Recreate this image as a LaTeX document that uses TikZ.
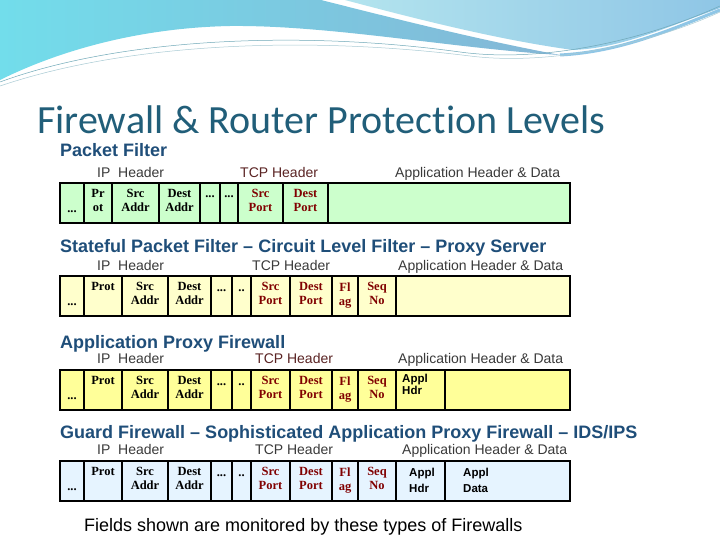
\documentclass[tikz,border=0pt]{standalone}
\usepackage{fontspec}
\setmainfont{Liberation Sans}
\newfontfamily\titlefont[Ligatures={NoCommon,NoDiscretionary}]{Carlito}
\newfontfamily\cellfont{Liberation Serif}
\usetikzlibrary{positioning}
\definecolor{titleteal}{HTML}{215E79}
\definecolor{secblue}{HTML}{1F4E79}
\definecolor{lblgray}{HTML}{3A3A3A}
\definecolor{tcpred}{HTML}{800000}
\definecolor{tcplbl}{HTML}{5A2323}
\definecolor{pfgreen}{HTML}{CCFFCC}
\definecolor{spyellow}{HTML}{FFFFCC}
\definecolor{apyellow}{HTML}{FFFF99}
\definecolor{gfblue}{HTML}{E6F4FF}
\definecolor{wavecyan}{HTML}{72DDEB}
\definecolor{waveblue}{HTML}{84B6D6}
\definecolor{wavelight}{HTML}{B3E4EE}
\definecolor{wavemid}{HTML}{8FC6E6}
\definecolor{waveline}{HTML}{6FA8B8}

\begin{document}
\begin{tikzpicture}[
  x=1pt, y=-1pt,
  secnode/.style={font=\fontsize{18}{20}\selectfont\bfseries, text=secblue, anchor=base west, inner sep=0},
  hdrnode/.style={font=\fontsize{14}{16}\selectfont, text=lblgray, anchor=base west, inner sep=0},
  ipfield/.style={font=\cellfont\bfseries\fontsize{12.5}{14}\selectfont, align=center, anchor=north, inner sep=0},
  tcpfield/.style={ipfield, text=tcpred},
  dotfield/.style={font=\cellfont\bfseries\fontsize{12.5}{14}\selectfont, anchor=base, inner sep=0},
  applfield/.style={font=\bfseries\fontsize{11.5}{12}\selectfont, align=left, anchor=north west, inner sep=0},
  rowframe/.style={draw=black, line width=2.2pt},
  divider/.style={draw=black, line width=1.3pt},
]

\useasboundingbox (0,0) rectangle (720,540);
\fill[white] (0,0) rectangle (720,540);

% =============================================
% Top wave decoration
% =============================================
\shade[left color=wavecyan, right color=waveblue]
  (0,0) -- (321,0) .. controls (400,20) and (480,40) .. (560,55)
  .. controls (450,48) and (330,25) .. (230,26)
  .. controls (130,28) and (50,55) .. (0,80) -- cycle;
\shade[left color=wavelight, right color=wavemid]
  (345,0) -- (720,0) -- (720,8) .. controls (660,30) and (620,48) .. (573,50)
  .. controls (500,40) and (420,20) .. (345,0) -- cycle;
\draw[wavemid, line width=3pt] (560,55) .. controls (620,52) and (670,30) .. (720,10);
\draw[waveline, line width=0.5pt] (0,82) .. controls (120,38) and (300,30) .. (460,52)
  .. controls (540,63) and (640,42) .. (720,6);
\draw[waveline!60, line width=0.5pt] (0,86) .. controls (130,42) and (310,36) .. (470,56)
  .. controls (550,66) and (650,44) .. (720,12);

% Title
\node[font=\titlefont\fontsize{40}{44}\selectfont, text=titleteal, anchor=base west, inner sep=0]
  (title) at (37,134) {Firewall \& Router Protection Levels};

% =============================================
% Row 1: Packet Filter
% =============================================
\node[secnode] (pf-sec) at (60,157) {Packet Filter};
\node[hdrnode] (pf-ip) at (97,178) {IP\ \ Header};
\node[hdrnode, text=tcplbl] (pf-tcp) at (240,178) {TCP Header};
\node[hdrnode] (pf-app) at (395,178) {Application Header \& Data};

\begin{scope}[shift={(0,183)}]
  \filldraw[fill=pfgreen, rowframe] (60,0) rectangle (570,40);
  \foreach \x in {84,112,159,200,220,238,283,328}
    \draw[divider] (\x,0) -- (\x,40);
  \node[dotfield] (pf-d1) at (72,29) {...};
  \node[ipfield] (pf-prot) at (98,6.5) {Pr\\ot};
  \node[ipfield] (pf-src) at (135.5,6.5) {Src\\Addr};
  \node[ipfield] (pf-dst) at (179.5,6.5) {Dest\\Addr};
  \node[dotfield] (pf-d2) at (210,15) {...};
  \node[dotfield] (pf-d3) at (229,15) {...};
  \node[tcpfield] (pf-sport) at (260.5,6.5) {Src\\Port};
  \node[tcpfield] (pf-dport) at (305.5,6.5) {Dest\\Port};
\end{scope}

% =============================================
% Row 2: Stateful Packet Filter
% =============================================
\node[secnode] (sp-sec) at (60,252) {Stateful Packet Filter – Circuit Level Filter – Proxy Server};
\node[hdrnode] (sp-ip) at (97,270) {IP\ \ Header};
\node[hdrnode] (sp-tcp) at (252,270) {TCP Header};
\node[hdrnode] (sp-app) at (398,270) {Application Header \& Data};

\begin{scope}[shift={(0,276)}]
  \filldraw[fill=spyellow, rowframe] (60,0) rectangle (570,40);
  \foreach \x in {84,122,168,211,232,251,290,332,358,396}
    \draw[divider] (\x,0) -- (\x,40);
  \node[dotfield] (sp-d1) at (72,29) {...};
  \node[ipfield] (sp-prot) at (103,6.5) {Prot};
  \node[ipfield] (sp-src) at (145,6.5) {Src\\Addr};
  \node[ipfield] (sp-dst) at (189.5,6.5) {Dest\\Addr};
  \node[dotfield] (sp-d2) at (221.5,15) {...};
  \node[dotfield] (sp-d3) at (241.5,15) {..};
  \node[tcpfield] (sp-sport) at (270.5,6.5) {Src\\Port};
  \node[tcpfield] (sp-dport) at (311,6.5) {Dest\\Port};
  \node[tcpfield] (sp-flag) at (345,6.5) {Fl\\ag};
  \node[tcpfield] (sp-seq) at (377,6.5) {Seq\\No};
\end{scope}

% =============================================
% Row 3: Application Proxy Firewall
% =============================================
\node[secnode] (ap-sec) at (60,348) {Application Proxy Firewall};
\node[hdrnode] (ap-ip) at (97,363) {IP\ \ Header};
\node[hdrnode, text=tcplbl] (ap-tcp) at (255,363) {TCP Header};
\node[hdrnode] (ap-app) at (398,363) {Application Header \& Data};

\begin{scope}[shift={(0,370)}]
  \filldraw[fill=apyellow, rowframe] (60,0) rectangle (570,40);
  \foreach \x in {84,122,168,211,232,251,290,332,358,396,445}
    \draw[divider] (\x,0) -- (\x,40);
  \node[dotfield] (ap-d1) at (72,29) {...};
  \node[ipfield] (ap-prot) at (103,6.5) {Prot};
  \node[ipfield] (ap-src) at (145,6.5) {Src\\Addr};
  \node[ipfield] (ap-dst) at (189.5,6.5) {Dest\\Addr};
  \node[dotfield] (ap-d2) at (221.5,15) {...};
  \node[dotfield] (ap-d3) at (241.5,15) {..};
  \node[tcpfield] (ap-sport) at (270.5,6.5) {Src\\Port};
  \node[tcpfield] (ap-dport) at (311,6.5) {Dest\\Port};
  \node[tcpfield] (ap-flag) at (345,6.5) {Fl\\ag};
  \node[tcpfield] (ap-seq) at (377,6.5) {Seq\\No};
  \node[applfield] (ap-ahdr) at (402,3.5) {Appl\\Hdr};
\end{scope}

% =============================================
% Row 4: Guard Firewall
% =============================================
\node[secnode] (gf-sec) at (60,438) {Guard Firewall – Sophisticated Application Proxy Firewall – IDS/IPS};
\node[hdrnode] (gf-ip) at (97,454) {IP\ \ Header};
\node[hdrnode] (gf-tcp) at (255,454) {TCP Header};
\node[hdrnode] (gf-app) at (402,454) {Application Header \& Data};

\begin{scope}[shift={(0,461)}]
  \filldraw[fill=gfblue, rowframe] (60,0) rectangle (570,40);
  \foreach \x in {84,122,168,211,232,251,290,332,358,396,445}
    \draw[divider] (\x,0) -- (\x,40);
  \node[dotfield] (gf-d1) at (72,29) {...};
  \node[ipfield] (gf-prot) at (103,6.5) {Prot};
  \node[ipfield] (gf-src) at (145,6.5) {Src\\Addr};
  \node[ipfield] (gf-dst) at (189.5,6.5) {Dest\\Addr};
  \node[dotfield] (gf-d2) at (221.5,15) {...};
  \node[dotfield] (gf-d3) at (241.5,15) {..};
  \node[tcpfield] (gf-sport) at (270.5,6.5) {Src\\Port};
  \node[tcpfield] (gf-dport) at (311,6.5) {Dest\\Port};
  \node[tcpfield] (gf-flag) at (345,6.5) {Fl\\ag};
  \node[tcpfield] (gf-seq) at (377,6.5) {Seq\\No};
  \node[applfield, font=\bfseries\fontsize{11.5}{16}\selectfont] (gf-ahdr) at (409,6.5) {Appl\\Hdr};
  \node[applfield, font=\bfseries\fontsize{11.5}{16}\selectfont] (gf-adata) at (463,6.5) {Appl\\Data};
\end{scope}

% Footer
\node[font=\fontsize{18}{20}\selectfont, anchor=base west, inner sep=0] (footer) at (84,531)
  {Fields shown are monitored by these types of Firewalls};

\end{tikzpicture}
\end{document}
